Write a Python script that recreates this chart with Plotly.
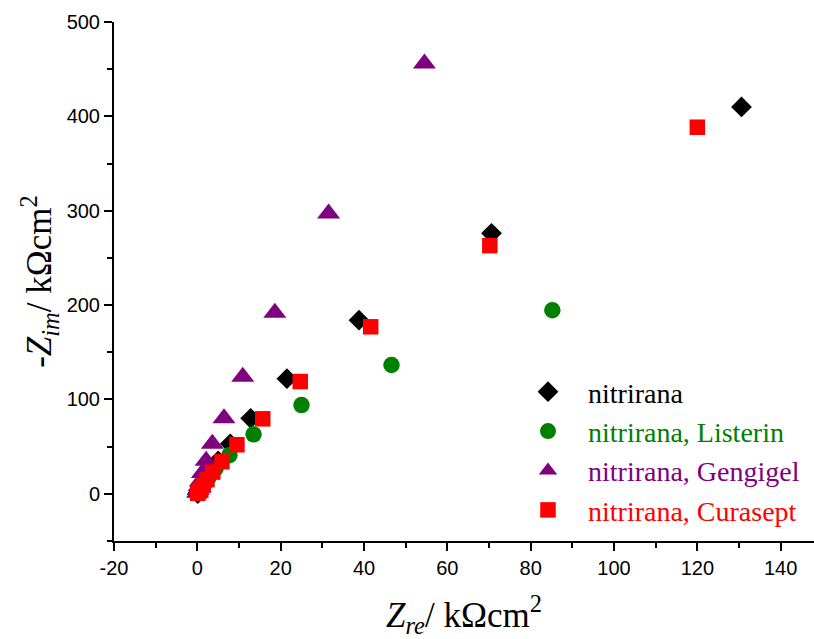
import plotly.graph_objects as go

# Data (Nyquist plot, kOhm cm^2)
names = ["nitrirana", "nitrirana, Listerin", "nitrirana, Gengigel", "nitrirana, Curasept"]
colors = ["#000000", "#008000", "#800080", "#FF0000"]
symbols = ["diamond", "circle", "triangle-up", "square"]
sizes = [16, 16.5, 20, 15.5]

zre_nitrirana = [130.6, 70.6, 38.8, 21.5, 12.8, 7.9, 5.0, 3.2, 2.0, 1.2, 0.7, 0.3, 0.1]
zim_nitrirana = [410, 276, 184, 122, 80, 53, 35, 23, 14, 8, 4, 1.5, 0.3]

zre_listerin = [85.2, 46.6, 25.0, 13.5, 7.7, 4.4, 2.6, 1.5, 0.8, 0.4, 0.1]
zim_listerin = [194.5, 136.5, 94, 63, 41, 27, 17, 10, 6, 3, 1]

zre_gengigel = [54.5, 31.5, 18.6, 10.9, 6.4, 3.6, 2.1, 1.2, 0.7, 0.4, 0.2, 0.05]
zim_gengigel = [456, 297, 192, 124, 80, 53, 35, 22, 13, 8, 4, 1]

zre_curasept = [120.0, 70.2, 41.6, 24.7, 15.7, 9.5, 5.9, 3.7, 2.3, 1.4, 0.8, 0.4, 0.1]
zim_curasept = [388.5, 263, 177, 119, 79.5, 52, 34, 23, 15, 9, 5, 2.5, 0.5]

x_tickvals = [-20, 0, 20, 40, 60, 80, 100, 120, 140]
x_ticktext = ["-20", "0", "20", "40", "60", "80", "100", "120", "140"]
y_tickvals = [0, 100, 200, 300, 400, 500]
y_ticktext = ["0", "100", "200", "300", "400", "500"]

xs = [zre_nitrirana, zre_listerin, zre_gengigel, zre_curasept]
ys = [zim_nitrirana, zim_listerin, zim_gengigel, zim_curasept]

fig = go.Figure()
for n, c, s, sz, x, y in zip(names, colors, symbols, sizes, xs, ys):
    fig.add_trace(go.Scatter(
        x=x, y=y, mode="markers", name=f"<span style='color:{c}'>{n}</span>",
        marker=dict(symbol=s, color=c, size=sz, line=dict(width=0)),
    ))

serif = "Liberation Serif, Times New Roman, serif"
sans = "Liberation Sans, Arial, sans-serif"

axis_common = dict(
    showline=True, linewidth=2, linecolor="black", mirror=False,
    ticks="outside", ticklen=8, tickwidth=2, tickcolor="black",
    showgrid=False, zeroline=False,
    tickfont=dict(family=sans, size=20, color="black"),
)

fig.update_layout(
    width=814, height=639,
    margin=dict(l=114, r=0, t=22, b=98),
    paper_bgcolor="white", plot_bgcolor="white",
    showlegend=True,
    legend=dict(
        x=(508 - 114) / 700, xanchor="left",
        y=(541 - 367) / 519, yanchor="top",
        font=dict(family=serif, size=28, color="black"),
        bgcolor="rgba(0,0,0,0)", itemsizing="trace",
        itemwidth=70, tracegroupgap=0,
    ),
    xaxis=dict(
        range=[-20, 148], tickvals=x_tickvals, ticktext=x_ticktext,
        minor=dict(dtick=10, tick0=0, ticks="outside", ticklen=5, tickwidth=2, tickcolor="black", showgrid=False),
        title=dict(text="<i>Z<sub>re</sub></i>/ kΩcm<sup>2</sup>",
                   font=dict(family=serif, size=35, color="black"), standoff=30),
        **axis_common,
    ),
    yaxis=dict(
        range=[-50, 500], tickvals=y_tickvals, ticktext=y_ticktext,
        minor=dict(dtick=50, tick0=0, ticks="outside", ticklen=5, tickwidth=2, tickcolor="black", showgrid=False),
        title=dict(text="-<i>Z<sub>im</sub></i>/ kΩcm<sup>2</sup>",
                   font=dict(family=serif, size=35, color="black"), standoff=4),
        **axis_common,
    ),
)

fig.write_html("out.html")
